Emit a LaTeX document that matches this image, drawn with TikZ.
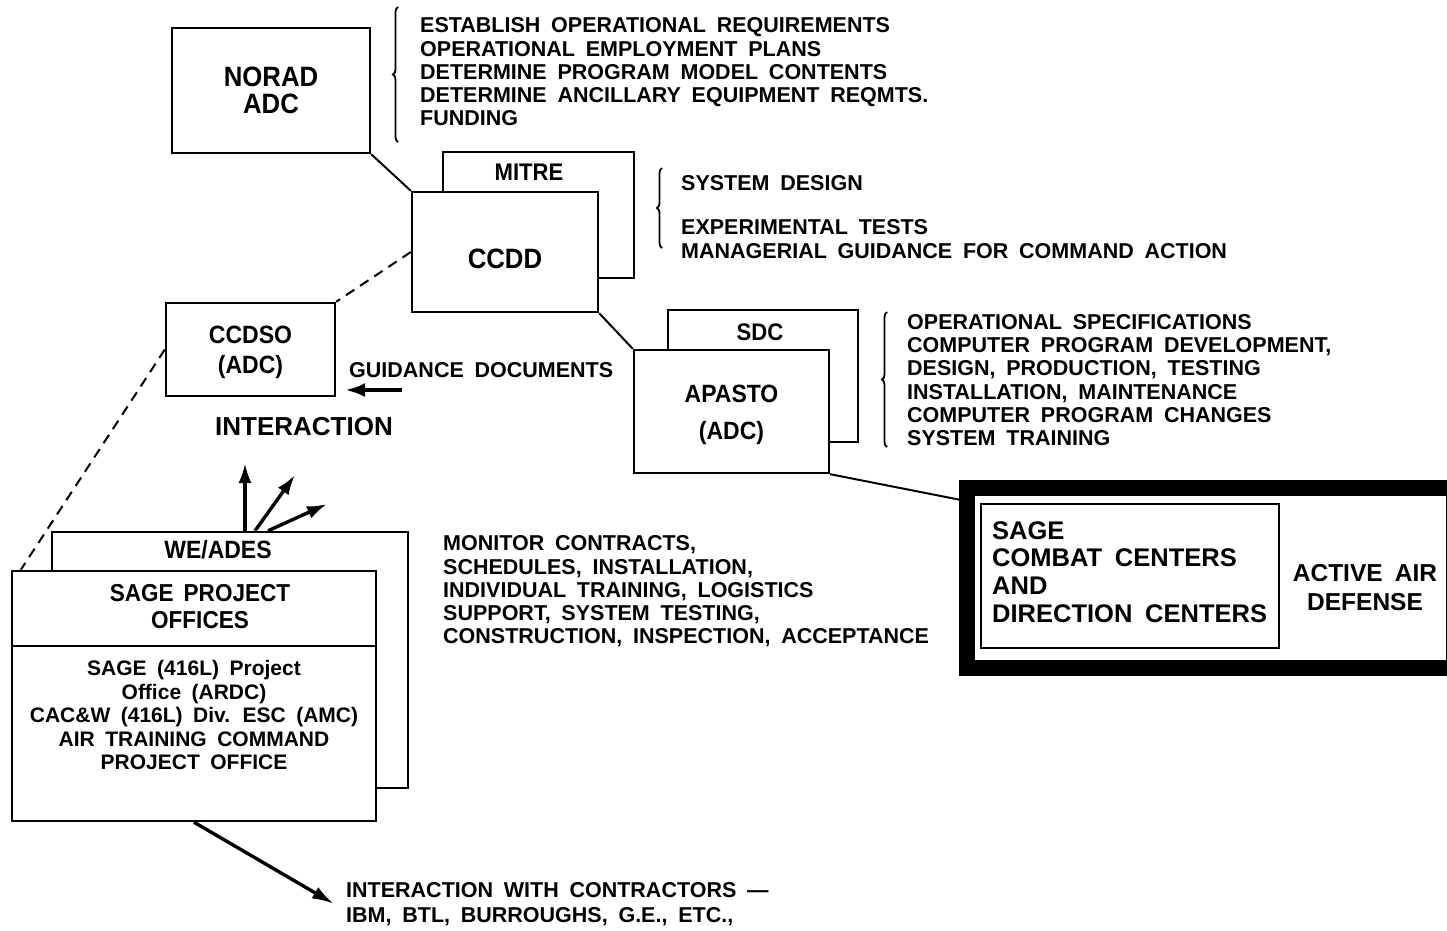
\documentclass[tikz,border=0pt]{standalone}
\usepackage{fontspec}
\setmainfont{Liberation Sans}[WordSpace=1.8]
\newfontfamily\lblfont{Liberation Sans}[FakeStretch=0.92,WordSpace=1.6]
\usetikzlibrary{arrows.meta,calc,decorations.pathreplacing}

\begin{document}
\begin{tikzpicture}[
  x=1pt,y=-1pt,
  unit/.style={draw,line width=2.4pt,fill=white,inner sep=0pt,align=center,font=\lblfont\bfseries\fontsize{25}{30}\selectfont},
  backunit/.style={draw,line width=2.4pt,fill=white,inner sep=0pt},
  tag/.style={inner sep=0pt,align=center,font=\lblfont\bfseries\fontsize{24}{27}\selectfont},
  duty/.style={anchor=north west,inner sep=0pt,align=left,font=\bfseries\fontsize{21.5}{23.3}\selectfont},
  link/.style={line width=2pt},
  liaison/.style={line width=2pt,dash pattern=on 10pt off 7pt},
  flow/.style={line width=3.4pt,-{Latex[length=20pt,width=13pt]}},
  bracket/.style={line width=1.8pt,decorate,decoration={brace,amplitude=5pt}},
  >=Latex
]
\clip (0,0) rectangle (1447,930);

% command chain
\node[unit,minimum width=198pt,minimum height=125pt,font=\lblfont\bfseries\fontsize{28}{27}\selectfont] (norad) at (271,90.5) {NORAD\\ADC};
\node[backunit,minimum width=191pt,minimum height=126pt] (mitre) at (538.5,215) {};
\node[tag] (mitrelbl) at (529,172) {MITRE};
\node[unit,minimum width=186pt,minimum height=120pt,font=\lblfont\bfseries\fontsize{28}{30}\selectfont] (ccdd) at (505,252) {\raisebox{0pt}[32pt][0pt]{CCDD}};
\node[backunit,minimum width=190pt,minimum height=132pt] (sdc) at (763,376) {};
\node[tag] (sdclbl) at (760,332) {SDC};
\node[unit,minimum width=195pt,minimum height=123pt,font=\lblfont\bfseries\fontsize{25}{37}\selectfont] (apasto) at (731.5,411.5) {\rule{0pt}{25pt}APASTO\\(ADC)};
\node[unit,minimum width=169pt,minimum height=93pt] (ccdso) at (250.5,349.5) {\rule{0pt}{24pt}CCDSO\\(ADC)};

% project offices
\node[backunit,minimum width=356pt,minimum height=256pt] (weades) at (230,660) {};
\node[tag,font=\lblfont\bfseries\fontsize{25}{27}\selectfont] (weadeslbl) at (218,550) {WE/ADES};
\node[backunit,minimum width=364pt,minimum height=250pt] (spo) at (194,696) {};
\coordinate (split) at (0,646);
\draw[line width=2.4pt] (spo.west |- split) -- (spo.east |- split);
\node[tag,font=\lblfont\bfseries\fontsize{24.5}{27}\selectfont] (spohead) at (200,606.5) {SAGE PROJECT\\OFFICES};
\node[inner sep=0pt,align=center,font=\bfseries\fontsize{21}{23.5}\selectfont] (spobody) at (194,715) {SAGE (416L) Project\\Office (ARDC)\\CAC\&W (416L) Div. ESC (AMC)\\AIR TRAINING COMMAND\\PROJECT OFFICE};

% combat centers
\node[draw,line width=16pt,minimum width=487pt,minimum height=180pt,inner sep=0pt] (aad) at (1210.5,578) {};
\node[draw,line width=2.4pt,minimum width=298pt,minimum height=144pt,inner sep=0pt] (centers) at (1130,576) {};
\node[duty,font=\bfseries\fontsize{25.5}{27.7}\selectfont] (centerstxt) at (992,521) {SAGE\\COMBAT CENTERS\\AND\\DIRECTION CENTERS};
\node[inner sep=0pt,align=center,font=\bfseries\fontsize{24.5}{29}\selectfont] (aadtxt) at (1365,587.5) {ACTIVE AIR\\DEFENSE};

% duties
\node[duty] (noradduty) at (420,17.5) {ESTABLISH OPERATIONAL REQUIREMENTS\\OPERATIONAL EMPLOYMENT PLANS\\DETERMINE PROGRAM MODEL CONTENTS\\DETERMINE ANCILLARY EQUIPMENT REQMTS.\\FUNDING};
\node[duty] (mitreduty) at (681,175.5) {SYSTEM DESIGN\\[20.7pt]EXPERIMENTAL TESTS\\MANAGERIAL GUIDANCE FOR COMMAND ACTION};
\node[duty] (sdcduty) at (907,314) {OPERATIONAL SPECIFICATIONS\\COMPUTER PROGRAM DEVELOPMENT,\\DESIGN, PRODUCTION, TESTING\\INSTALLATION, MAINTENANCE\\COMPUTER PROGRAM CHANGES\\SYSTEM TRAINING};
\node[duty] (weadesduty) at (443,535.5) {MONITOR CONTRACTS,\\SCHEDULES, INSTALLATION,\\INDIVIDUAL TRAINING, LOGISTICS\\SUPPORT, SYSTEM TESTING,\\CONSTRUCTION, INSPECTION, ACCEPTANCE};
\node[duty] (guide) at (349,362.5) {GUIDANCE DOCUMENTS};
\node[inner sep=0pt,font=\bfseries\fontsize{26}{30}\selectfont] (interact) at (304,427) {INTERACTION};
\node[duty,font=\bfseries\fontsize{21.5}{25}\selectfont] (contract) at (346,882) {INTERACTION WITH CONTRACTORS ---\\IBM, BTL, BURROUGHS, G.E., ETC.,};

\draw[bracket] (398,142) -- (398,7);
\draw[bracket] (662,248) -- (662,168);
\draw[bracket] (887,447) -- (887,312);

% connectors
\draw[link] (norad.south east) -- (ccdd.north west);
\draw[link] (ccdd.south east) -- (apasto.north west);
\draw[link] (apasto.south east) -- ($(aad.north west)!0.1!(aad.south west)$);
\draw[liaison] (ccdd.west) -- (ccdso.north east);
\draw[liaison] (ccdso.west) -- ([xshift=10pt]spo.north west);
\coordinate (gdtail) at (402,390);
\coordinate (gdhead) at (345,390);
\draw[line width=4.5pt,-{Latex[length=20pt,width=14pt]}] (gdtail) -- (gdhead);
\coordinate (up1) at (245,463);
\coordinate (up2) at (295,475);
\coordinate (up3) at (327,504);
\draw[flow] ([xshift=15pt]weades.north) -- (up1);
\draw[flow] ([xshift=25pt]weades.north) -- (up2);
\draw[flow] ([xshift=38pt]weades.north) -- (up3);
\draw[flow,-{Latex[length=22pt,width=13pt]}] (spo.south) -- ([xshift=-12pt]contract.west);
\end{tikzpicture}
\end{document}
